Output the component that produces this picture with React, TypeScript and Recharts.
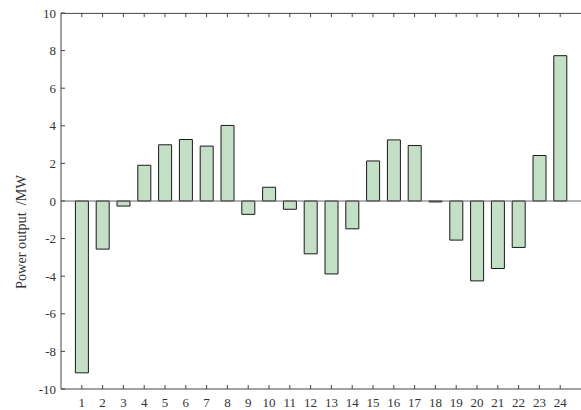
import { Bar, BarChart, Label, ReferenceLine, XAxis, YAxis } from "recharts";

const hours = [1, 2, 3, 4, 5, 6, 7, 8, 9, 10, 11, 12, 13, 14, 15, 16, 17, 18, 19, 20, 21, 22, 23, 24];
const power = [
  -9.14, -2.56, -0.27, 1.9, 2.99, 3.27, 2.92, 4.02, -0.71, 0.73, -0.44, -2.81,
  -3.88, -1.48, 2.13, 3.25, 2.95, -0.05, -2.08, -4.25, -3.59, -2.47, 2.42, 7.73,
];
const yTicks = [-10, -8, -6, -4, -2, 0, 2, 4, 6, 8, 10];

const data = hours.map((h, i) => ({ hour: h, value: power[i] }));

const tickStyle = { fill: "#333", fontSize: 13 };
const axisStroke = "#444";
// top frame sits a hair below the max so it is not lost at the plot edge
const topLine = 9.98;

export default function App() {
  return (
    <div
      style={{
        position: "absolute",
        top: 0,
        left: 0,
        background: "#fff",
        fontFamily: "Liberation Serif, serif",
      }}
    >
      <BarChart width={581} height={410} data={data} margin={{ top: 13, right: 0, left: 0, bottom: 0 }}>
        <XAxis
          dataKey="hour"
          type="number"
          domain={[0, 25]}
          ticks={hours}
          interval={0}
          height={21}
          tickSize={-4}
          tickMargin={13}
          stroke={axisStroke}
          tick={tickStyle}
        />
        <YAxis
          domain={[-10, 10]}
          ticks={yTicks}
          interval={0}
          width={61}
          tickSize={-4}
          tickMargin={9}
          stroke={axisStroke}
          tick={tickStyle}
        >
          <Label
            value={"Power output\u00A0 /MW"}
            angle={-90}
            position="center"
            dx={-10}
            dy={31}
            style={{ fill: "#333", fontSize: 14.3 }}
          />
        </YAxis>
        <ReferenceLine y={0} stroke="#666" />
        <ReferenceLine y={topLine} stroke={axisStroke} />
        {hours.map((h) => (
          <ReferenceLine
            key={h}
            segment={[
              { x: h, y: topLine },
              { x: h, y: topLine - 0.2 },
            ]}
            stroke={axisStroke}
          />
        ))}
        <Bar dataKey="value" barSize={13} fill="#c3dfc5" stroke="#1a1a1a" strokeWidth={1} isAnimationActive={false} />
      </BarChart>
    </div>
  );
}
